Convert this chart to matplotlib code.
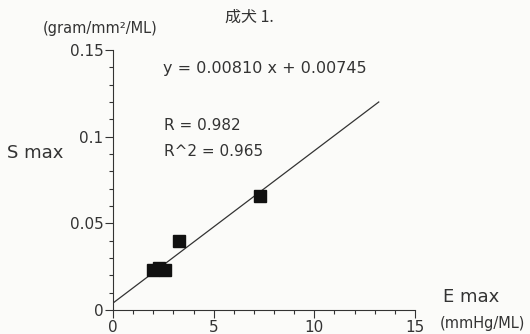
import matplotlib
matplotlib.use('Agg')
from matplotlib import pyplot as plt
from matplotlib.ticker import MultipleLocator

# data
emax = [2.0, 2.3, 2.6, 3.3, 7.3]
smax = [0.023, 0.0245, 0.023, 0.040, 0.066]
fit_x = [0, 13.2]
fit_y = [0.004, 0.120]

xticks = [0, 5, 10, 15]
yticks = [0, 0.05, 0.1, 0.15]
yticklabels = ['0', '0.05', '0.1', '0.15']

plt.rcParams['font.family'] = ['DejaVu Sans', 'Noto Sans CJK JP']
ink = '#333333'
bg = '#fbfbf9'

fig = plt.figure(figsize=(5.3, 3.34), dpi=100, facecolor=bg)
ax = fig.add_axes([0.2132, 0.0719, 0.5698, 0.7784], facecolor=bg)

ax.plot(fit_x, fit_y, color=ink, linewidth=0.9)
ax.plot(emax, smax, 's', color='#111111', markersize=8, zorder=3)

ax.set_xlim(0, 15)
ax.set_ylim(0, 0.15)
ax.set_xticks(xticks)
ax.set_yticks(yticks)
ax.set_yticklabels(yticklabels)
ax.xaxis.set_minor_locator(MultipleLocator(1))
ax.yaxis.set_minor_locator(MultipleLocator(0.01))
ax.tick_params(which='major', length=6, width=0.8, color=ink, labelcolor=ink, labelsize=11)
ax.tick_params(which='minor', length=3, width=0.8, color=ink)
ax.tick_params(axis='x', pad=1)
ax.tick_params(axis='y', pad=1)
for s in ['top', 'right']:
    ax.spines[s].set_visible(False)
for s in ['left', 'bottom']:
    ax.spines[s].set_color(ink)
    ax.spines[s].set_linewidth(0.8)
    ax.spines[s].set_clip_on(False)

fig.text(0.47, 0.949, '成犬 1.', ha='center', va='center', fontsize=11.5,
         color=ink, family=['Noto Sans CJK JP', 'DejaVu Sans'])
fig.text(0.081, 0.916, '(gram/mm²/ML)', ha='left', va='center', fontsize=10.5, color=ink)
fig.text(0.013, 0.542, 'S max', ha='left', va='center', fontsize=13, color=ink)
fig.text(0.835, 0.11, 'E max', ha='left', va='center', fontsize=13, color=ink)
fig.text(0.83, 0.03, '(mmHg/ML)', ha='left', va='center', fontsize=10.5, color=ink)

fig.text(0.307, 0.796, 'y = 0.00810 x + 0.00745', ha='left', va='center', fontsize=11.5, color=ink)
fig.text(0.309, 0.623, 'R = 0.982', ha='left', va='center', fontsize=11, color=ink)
fig.text(0.309, 0.545, 'R^2 = 0.965', ha='left', va='center', fontsize=11, color=ink)

fig.savefig('out.png', dpi=100, facecolor=bg)
